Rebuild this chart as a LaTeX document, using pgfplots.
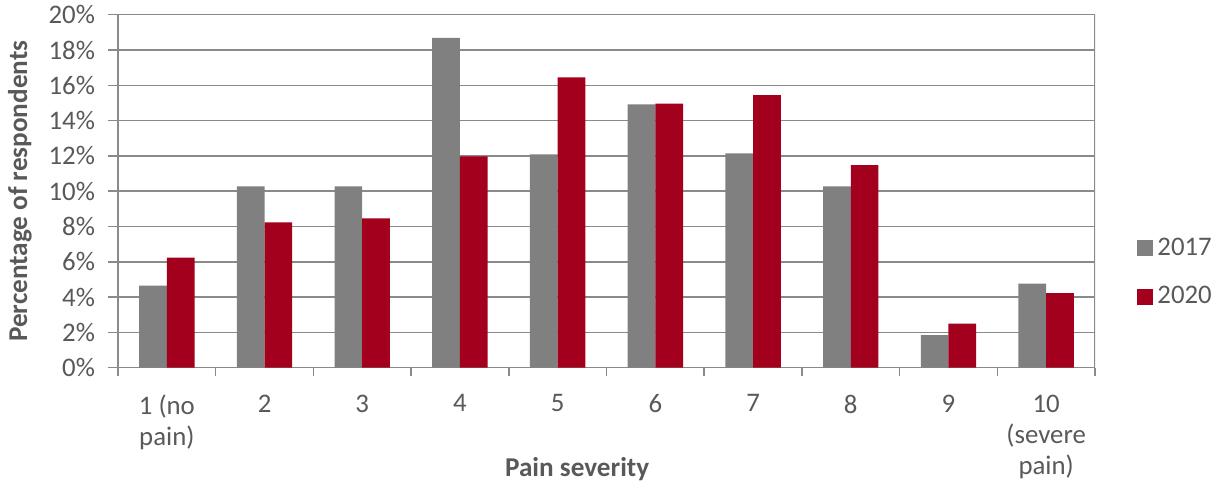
\documentclass[border=0pt]{standalone}
\usepackage{pgfplots}
\pgfplotsset{compat=1.18}
\usepackage{fontspec}
\setmainfont{Carlito}
\definecolor{bargray}{HTML}{808080}
\definecolor{barred}{HTML}{A3001E}
\definecolor{txtgray}{HTML}{595959}
\definecolor{gridgray}{HTML}{8A8A8A}
\begin{document}
\begin{tikzpicture}
\useasboundingbox (-59pt,-59.15pt) rectangle (552.5pt,183.85pt);
\begin{axis}[
    scale only axis,
    width=488.5pt, height=176.5pt,
    ybar=0pt, bar width=13.85pt,
    xmin=0.5, xmax=10.5,
    ymin=0, ymax=20,
    xtick={1,...,10},
    xticklabels={{1 (no\\pain)},2,3,4,5,6,7,8,9,{10\\(severe\\pain)}},
    major x tick style={draw=none},
    minor xtick={0.5,1.5,...,10.5},
    ytick={0,2,...,20},
    yticklabel={\pgfmathprintnumber{\tick}\%},
    /pgf/number format/assume math mode=true,
    tick align=outside,
    major tick length=5pt, minor tick length=4pt,
    tick style={gridgray, line width=0.75pt},
    ymajorgrids,
    grid style={gridgray, line width=0.75pt},
    axis line style={gridgray, line width=0.75pt},
    axis x line*=bottom,
    axis y line*=left,
    every tick label/.append style={txtgray, font=\fontsize{13.4}{15.6}\selectfont},
    x tick label style={align=center, anchor=north, yshift=-5pt},
    y tick label style={xshift=-3pt},
    xlabel={Pain severity},
    ylabel={Percentage of respondents},
    label style={txtgray, font=\fontsize{13.6}{15}\selectfont\bfseries},
    xlabel style={at={(axis description cs:0.47,-0.288)}, anchor=center},
    ylabel style={at={(axis description cs:-0.1003,0.5)}, anchor=center},
    legend style={draw=none, fill=none, at={(axis description cs:1.043,0.27)}, anchor=west,
        font=\fontsize{13.4}{15}\selectfont, text=txtgray, row sep=10pt, inner sep=0pt},
    legend cell align=left,
    legend image code/.code={\fill[#1] (0pt,-4pt) rectangle (8pt,4pt);},
]
\addplot[fill=bargray, draw=none] coordinates {(1,4.65) (2,10.27) (3,10.27) (4,18.68) (5,12.09) (6,14.92) (7,12.14) (8,10.27) (9,1.85) (10,4.76)};
\addplot[fill=barred, draw=none] coordinates {(1,6.23) (2,8.23) (3,8.46) (4,11.97) (5,16.45) (6,14.96) (7,15.45) (8,11.48) (9,2.49) (10,4.23)};
\legend{2017,2020}
\draw[gridgray, line width=0.75pt] (axis cs:10.5,0) -- (axis cs:10.5,20);
\end{axis}
\end{tikzpicture}
\end{document}
